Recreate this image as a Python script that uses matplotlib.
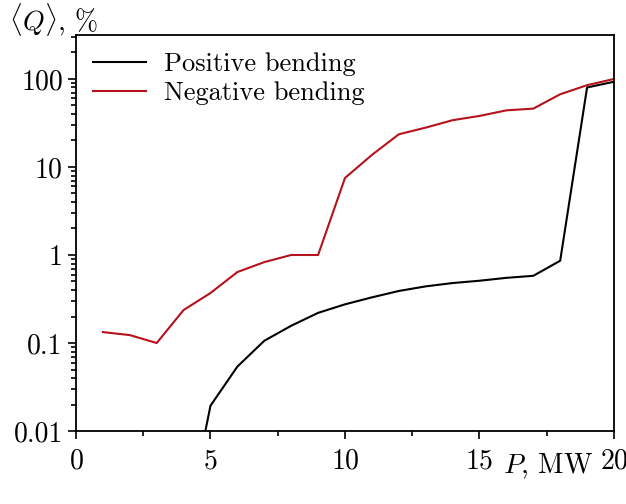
import numpy as np
import matplotlib
matplotlib.use('Agg')
import matplotlib.pyplot as plt
from matplotlib.ticker import FixedLocator, FuncFormatter, MultipleLocator

plt.rcParams['font.family'] = 'serif'
plt.rcParams['font.serif'] = ['cmr10']
plt.rcParams['mathtext.fontset'] = 'cm'
plt.rcParams['axes.unicode_minus'] = False
plt.rcParams['axes.formatter.use_mathtext'] = True

# power, MW
p_neg = [1, 2, 3, 4, 5, 6, 7, 8, 9, 10, 11, 12, 13, 14, 15, 16, 17, 18, 19, 20]
q_neg = [0.133, 0.123, 0.100, 0.237, 0.37, 0.64, 0.83, 1.0, 1.0, 7.5,
         13.7, 23.5, 28, 34, 38, 44, 46, 67, 85, 100]

p_pos = [4, 5, 6, 7, 8, 9, 10, 11, 12, 13, 14, 15, 16, 17, 18, 19, 20]
q_pos = [0.0006, 0.0194, 0.054, 0.106, 0.157, 0.22, 0.275, 0.33, 0.39, 0.44,
         0.48, 0.51, 0.55, 0.58, 0.86, 80, 93]

fig = plt.figure(figsize=(6.26, 5.04), dpi=100)
ax = fig.add_axes([0.1214, 0.1448, 0.8594, 0.7858])

ax.plot(p_pos, q_pos, color='black', lw=1.5, label='Positive bending')
ax.plot(p_neg, q_neg, color='#b5121b', lw=1.5, label='Negative bending')

ax.set_yscale('log')
ax.set_xlim(0, 20)
ax.set_ylim(0.01, 316)
ax.xaxis.set_major_locator(MultipleLocator(5))
ax.xaxis.set_minor_locator(MultipleLocator(2.5))
ax.yaxis.set_major_locator(FixedLocator([0.01, 0.1, 1, 10, 100]))
ax.yaxis.set_major_formatter(FuncFormatter(lambda v, pos: '%g' % v))
ax.tick_params(which='major', length=6, width=1.2, labelsize=20, direction='out')
ax.tick_params(which='minor', length=3.5, width=1.2, direction='out')
ax.tick_params(axis='x', which='major', pad=6)
for s in ax.spines.values():
    s.set_linewidth(1.3)

fig.text(0.015, 0.96, r'$\langle Q\rangle$, %', fontsize=20, va='center', ha='left')
ax.text(0.962, -0.052, r'$P$, MW', transform=ax.transAxes, fontsize=20,
        ha='right', va='top')

ax.legend(loc='upper left', frameon=False, fontsize=19, handlelength=2.0,
          borderaxespad=0.25, labelspacing=0.2, handletextpad=0.7)

fig.savefig('out.png', dpi=100)
